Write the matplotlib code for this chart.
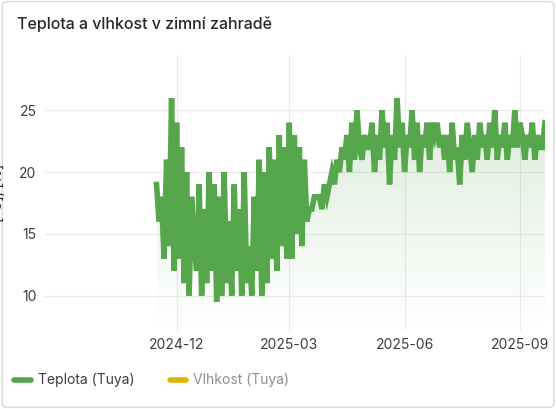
import numpy as np
import pandas as pd
import matplotlib.pyplot as plt
import matplotlib.dates as mdates
from matplotlib.patches import FancyBboxPatch

plt.rcParams['font.family'] = ['Inter', 'DejaVu Sans']

# teplota, zhruba po dvou dnech od poloviny listopadu 2024
teplota = [
    19, 16, 18, 13, 21, 14, 26, 12,
    24, 13, 22, 11, 20, 10, 18, 14, 12, 19, 10, 17, 11, 20, 12, 19,
    9.5, 18, 10, 20, 11, 16, 10, 19, 12, 17, 10, 20, 11, 14, 10, 18,
    12, 21, 10, 20, 11, 22, 13, 21, 12, 23, 14, 22, 13, 24,
    13, 23, 15, 22, 14, 21, 16, 17, 17, 18, 18, 18, 17, 19, 18, 19,
    20, 19, 21, 20, 22, 21, 23, 20, 24, 21, 25, 22, 21, 23, 22,
    22, 24, 20, 23, 21, 25, 22, 24, 19, 23, 21, 26, 22, 24, 20, 23,
    22, 25, 21, 24, 20, 23, 22, 24, 21, 24, 23, 24, 22, 23, 21,
    23, 20, 24, 21, 22, 19, 23, 21, 24, 22, 20, 23, 21, 24, 22, 23,
    21, 24, 22, 25, 21, 23, 22, 24, 21, 23, 22, 25, 22, 24, 23, 21,
    23, 22, 24, 21, 23, 22, 22, 24,
]
datum = pd.date_range('2024-11-15', periods=len(teplota), freq='2D')
tick_dates = pd.to_datetime(['2024-12-01', '2025-03-01', '2025-06-01', '2025-09-01'])
green = '#56a64b'

fig = plt.figure(figsize=(5.56, 4.09), dpi=100)
fig.patches.append(FancyBboxPatch((0.004, 0.004), 0.992, 0.992, boxstyle='round,pad=0,rounding_size=0.01',
                                  transform=fig.transFigure, fc='white', ec='#d8d8dc', lw=1, zorder=-10))
fig.text(0.03, 0.93, 'Teplota a vlhkost v zimní zahradě', fontsize=11.5, fontweight='medium', color='#24292e')

ax = fig.add_axes([0.081, 0.193, 0.899, 0.673])
ax.patch.set_alpha(0)
ymin, ymax = 7.2, 29.5
x = mdates.date2num(datum)

# gradientní výplň pod čarou
grad = np.linspace(0.0, 0.22, 256).reshape(-1, 1)
img = ax.imshow(np.dstack([np.full_like(grad, 0x56 / 255), np.full_like(grad, 0xa6 / 255),
                           np.full_like(grad, 0x4b / 255), grad]),
                extent=[x[0], x[-1], ymin, 26], origin='lower', aspect='auto', zorder=1)
poly = ax.fill_between(datum, teplota, ymin, color='none')
img.set_clip_path(poly.get_paths()[0], transform=ax.transData)

ax.plot(datum, teplota, color=green, lw=4, zorder=3, solid_joinstyle='miter')

ax.set_ylim(ymin, ymax)
ax.set_xlim(mdates.date2num(pd.Timestamp('2024-08-18')), mdates.date2num(pd.Timestamp('2025-09-21')))
ax.set_yticks([10, 15, 20, 25])
ax.set_xticks(tick_dates)
ax.xaxis.set_major_formatter(mdates.DateFormatter('%Y-%m'))
ax.grid(True, color='#ebebeb', lw=0.8)
ax.set_axisbelow(True)
for s in ax.spines.values():
    s.set_visible(False)
ax.tick_params(length=0, labelsize=10, colors='#3d3d3d', pad=6)
ax.set_ylabel('[°C], [%]', fontsize=10, color='#24292e', labelpad=10)

# legenda
fig.lines.append(plt.Line2D([0.025, 0.055], [0.072, 0.072], color=green, lw=4, solid_capstyle='round', transform=fig.transFigure))
fig.text(0.068, 0.072, 'Teplota (Tuya)', fontsize=10, color='#3d3d3d', va='center')
fig.lines.append(plt.Line2D([0.305, 0.335], [0.072, 0.072], color='#e0b400', lw=4, solid_capstyle='round', transform=fig.transFigure))
fig.text(0.348, 0.072, 'Vlhkost (Tuya)', fontsize=10, color='#8e8e8e', va='center')

fig.savefig('out.png', dpi=100)
